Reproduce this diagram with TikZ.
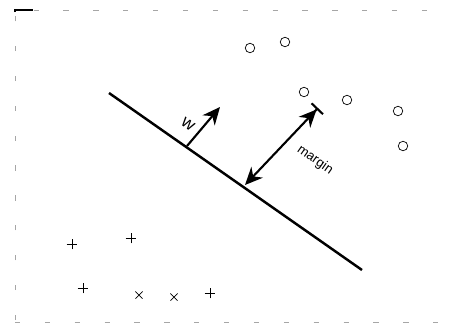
\documentclass[tikz,border=0pt]{standalone}
\usepackage{fontspec}
\setmainfont{Liberation Sans}
\usetikzlibrary{arrows.meta,shapes.misc}
\begin{document}
\begin{tikzpicture}[x=0.02cm,y=-0.02cm,
  possample/.style={circle,draw,thin,inner sep=0pt,minimum size=9.5*0.02cm},
  negx/.style={cross out,draw,thin,inner sep=0pt,minimum size=6.5*0.02cm},
  negp/.style={cross out,draw,thin,inner sep=0pt,minimum size=7*0.02cm,rotate=45},
  frame/.style={draw=black!35,line width=0.35pt,dash pattern=on 3pt off 14pt},
  vec/.style={line width=1.2pt,-{Stealth[length=10pt,width=9pt]}}]
\useasboundingbox (0,0) rectangle (452,325);
% faint frame of the scanned figure
\draw[frame] (15,320) -- (15,10) -- (440,10);
\draw[frame] (15,322) -- (440,322);
\draw[line width=0.8pt] (15,12) -- (15,10) -- (33,10);
% hyperplane
\coordinate (h1) at (109,93);
\coordinate (h2) at (362,270);
\draw[line width=1.4pt] (h1) -- (h2);
% positive samples
\node[possample] (p1) at (250,48) {};
\node[possample] (p2) at (285,42) {};
\node[possample] (p3) at (304,92) {};
\node[possample] (p4) at (347,100) {};
\node[possample] (p5) at (398,111) {};
\node[possample] (p6) at (403,146) {};
% negative samples
\node[negp] (n1) at (72,244) {};
\node[negp] (n2) at (131,238) {};
\node[negp] (n3) at (83,288) {};
\node[negx] (n4) at (139,295) {};
\node[negx] (n5) at (174,297) {};
\node[negp] (n6) at (210,293) {};
% w vector
\coordinate (w0) at (187,146);
\coordinate (w1) at (220,107);
\draw[vec] (w0) -- (w1);
\node[rotate=-35,font=\fontsize{10}{12}\selectfont] (wl) at (188,124) {w};
% margin
\coordinate (m0) at (245,185);
\coordinate (m1) at (318,108);
\draw[line width=1.2pt,{Stealth[length=10pt,width=9pt]}-{Stealth[length=10pt,width=9pt] Bar[width=9pt,line width=1.2pt]}] (m0) -- (m1);
\node[rotate=-35,font=\fontsize{7.5}{9}\selectfont] (ml) at (315,160) {margin};
\end{tikzpicture}
\end{document}
